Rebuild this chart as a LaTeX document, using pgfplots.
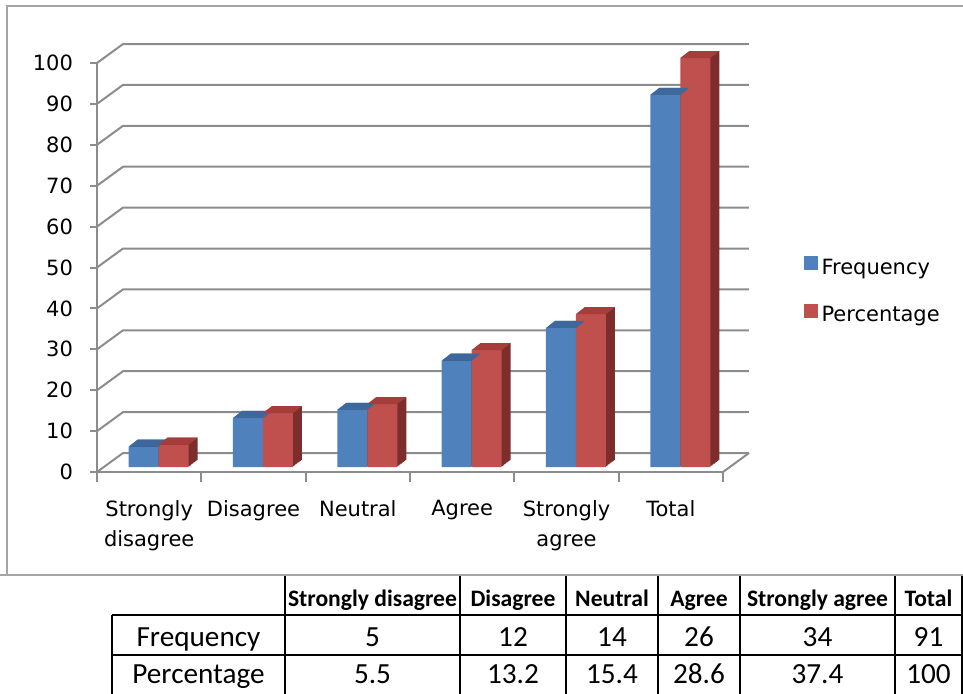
\documentclass[border=0pt]{standalone}
\usepackage{fontspec}
\usepackage{pgfplots}
\pgfplotsset{compat=1.18}
\usepackage{pgfplotstable}
\newfontfamily\chartfont{DejaVu Sans}
\newfontfamily\tablefont{Carlito}
\definecolor{bfront}{RGB}{79,129,189}
\definecolor{btop}{RGB}{62,104,156}
\definecolor{bside}{RGB}{44,77,117}
\definecolor{rfront}{RGB}{192,80,77}
\definecolor{rtop}{RGB}{165,62,59}
\definecolor{rside}{RGB}{125,45,43}
\definecolor{gridc}{RGB}{140,140,140}
\definecolor{borderc}{RGB}{165,165,165}

\pgfplotstableread{
x freq pct
0.5 5 5.5
1.5 12 13.2
2.5 14 15.4
3.5 26 28.6
4.5 34 37.4
5.5 91 100
}\datatable

\pgfdeclareplotmark{topface}{%
  \pgfpathmoveto{\pgfpoint{-7.5pt}{0pt}}%
  \pgfpathlineto{\pgfpoint{7.5pt}{0pt}}%
  \pgfpathlineto{\pgfpoint{12pt}{3.5pt}}%
  \pgfpathlineto{\pgfpoint{-3pt}{3.5pt}}%
  \pgfpathclose
  \pgfusepath{fill}}

\newcommand{\cf}{\chartfont\fontsize{10.5pt}{15pt}\selectfont}

\begin{document}
\begin{tikzpicture}
\useasboundingbox (0pt,0pt) rectangle (481.5pt,-346.5pt);

\begin{axis}[
  at={(48.5pt,-236pt)}, anchor=south west,
  scale only axis, width=313pt, height=204.5pt,
  xmin=0, xmax=6, ymin=0, ymax=100,
  clip=false,
  axis lines*=left,
  axis line style={gridc, line width=1pt},
  ytick={0,10,...,100},
  xtick={0.5,1.5,2.5,3.5,4.5,5.5},
  xticklabels={{Strongly\\disagree},Disagree,Neutral,Agree,{Strongly\\agree},Total},
  minor xtick={0,1,2,3,4,5,6},
  xtick align=outside, ytick align=outside,
  major x tick style={draw=none},
  minor x tick style={gridc, line width=1pt},
  major y tick style={gridc, line width=1pt},
  minor tick length=5pt,
  major tick length=3.5pt,
  /pgf/number format/assume math mode=true,
  yticklabel style={font=\cf, xshift=-5pt},
  xticklabel style={font=\cf, align=center, yshift=-7pt},
  legend style={at={(1.128,0.44)}, anchor=west, draw=none, fill=none,
     font=\cf, row sep=10.5pt, inner sep=0pt},
  legend cell align=left,
]
% back wall and floor
\pgfplotsinvokeforeach{0,10,20,30,40,50,60,70,80,90,100}{
  \draw[gridc, line width=1pt] (axis cs:0,#1) -- ++(13pt,9.5pt) -- ([shift={(13pt,9.5pt)}]axis cs:6,#1);
}
\draw[gridc, line width=1pt] (axis cs:6,0) -- ++(13pt,9.5pt);

% Frequency bars
\pgfplotsinvokeforeach{1,2,3,4,5,6,7,8}{
  \addplot[ybar, bar width=15pt, bar shift=-2.75pt, fill=bside, draw=none,
    xshift=#1*0.5625pt, yshift=2.5pt+#1*0.4375pt, forget plot] table[x=x,y=freq]{\datatable};
}
\addplot[ybar, bar width=15pt, bar shift=-2.75pt, fill=bfront, draw=none, yshift=2.5pt,
  legend image code/.code={\fill[bfront] (0pt,-3.5pt) rectangle (7pt,3.5pt);}]
  table[x=x,y=freq]{\datatable};
\addlegendentry{Frequency}
\addplot[only marks, mark=topface, color=btop, fill=btop, xshift=-2.75pt, yshift=2.5pt, forget plot]
  table[x=x,y=freq]{\datatable};

% Percentage bars
\pgfplotsinvokeforeach{1,2,3,4,5,6,7,8}{
  \addplot[ybar, bar width=15pt, bar shift=12.25pt, fill=rside, draw=none,
    xshift=#1*0.5625pt, yshift=2.5pt+#1*0.4375pt, forget plot] table[x=x,y=pct]{\datatable};
}
\addplot[ybar, bar width=15pt, bar shift=12.25pt, fill=rfront, draw=none, yshift=2.5pt,
  legend image code/.code={\fill[rfront] (0pt,-3.5pt) rectangle (7pt,3.5pt);}]
  table[x=x,y=pct]{\datatable};
\addlegendentry{Percentage}
\addplot[only marks, mark=topface, color=rtop, fill=rtop, xshift=12.25pt, yshift=2.5pt, forget plot]
  table[x=x,y=pct]{\datatable};
\end{axis}

\begin{scope}[x=0.5pt, y=-0.5pt]
  % table grid
  \draw[black, line width=1pt] (112,615) -- (962,615);
  \draw[black, line width=1pt] (112,655) -- (962,655);
  \draw[black, line width=1pt] (112,615) -- (112,700);
  \foreach \xx in {285,460,566,658,740,895,962}{
    \draw[black, line width=1pt] (\xx,575) -- (\xx,700);
  }
  % header
  \begin{scope}[every node/.style={anchor=base, inner sep=0pt, font=\tablefont\bfseries\fontsize{11.8pt}{14pt}\selectfont}]
    \node at (372.5,606) {Strongly disagree};
    \node at (513,606) {Disagree};
    \node at (612,606) {Neutral};
    \node at (699,606) {Agree};
    \node at (817.5,606) {Strongly agree};
    \node at (928.5,606) {Total};
  \end{scope}
  \begin{scope}[every node/.style={anchor=base, inner sep=0pt, font=\tablefont\fontsize{14.6pt}{16pt}\selectfont}]
    \node at (198.5,646) {Frequency};
    \node at (372.5,646) {5};
    \node at (513,646) {12};
    \node at (612,646) {14};
    \node at (699,646) {26};
    \node at (817.5,646) {34};
    \node at (928.5,646) {91};
    \node at (198.5,683) {Percentage};
    \node at (372.5,683) {5.5};
    \node at (513,683) {13.2};
    \node at (612,683) {15.4};
    \node at (699,683) {28.6};
    \node at (817.5,683) {37.4};
    \node at (928.5,683) {100};
  \end{scope}
  % chart border
  \draw[borderc, line width=1.2pt] (7,575) -- (7,6) -- (980,6);
  \draw[borderc, line width=1.2pt] (0,575) -- (980,575);
\end{scope}
\end{tikzpicture}
\end{document}
